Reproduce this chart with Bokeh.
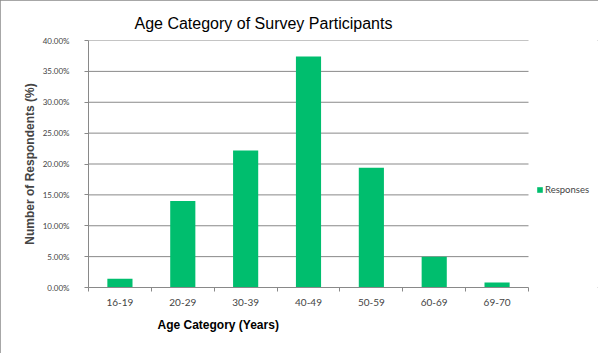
from bokeh.plotting import figure
from bokeh.models import (FixedTicker, NumeralTickFormatter, Legend, LegendItem,
                          ColumnDataSource, Range1d, InlineStyleSheet, Title)
from bokeh.embed import file_html
from bokeh.resources import INLINE

categories = ["16-19", "20-29", "30-39", "40-49", "50-59", "60-69", "69-70"]
responses = [0.014, 0.140, 0.222, 0.374, 0.194, 0.050, 0.008]
y_ticks = [0.0, 0.05, 0.10, 0.15, 0.20, 0.25, 0.30, 0.35, 0.40]

BAR = "#00BE6E"
GRID = "#898989"

n = len(categories)
xs = [i + 0.5 for i in range(n)]
src = ColumnDataSource(dict(x=xs, top=responses, cat=categories))
grid_src = ColumnDataSource(dict(y=y_ticks[1:], x0=[0] * (len(y_ticks) - 1), x1=[n] * (len(y_ticks) - 1)))

# frame spans the plot area plus the legend strip on the right (legend must not be clipped)
PLOT_W, LEGEND_W = 440, 70
p = figure(width=598, height=353, output_backend="svg", toolbar_location=None,
           x_range=Range1d(0, n * (PLOT_W + LEGEND_W) / PLOT_W), y_range=Range1d(0, 0.40),
           min_border_left=88, min_border_right=0, min_border_top=40, min_border_bottom=66)
p.stylesheets = [InlineStyleSheet(css=":host { outline: 1px solid #8a8a8a; outline-offset: -1px; }")]
p.outline_line_color = None
p.background_fill_color = "white"
p.border_fill_color = "white"

# gridlines limited to the category span
p.segment(x0="x0", x1="x1", y0="y", y1="y", source=grid_src, line_color=GRID, line_width=1)

r = p.vbar(x="x", top="top", width=0.4, source=src, color=BAR, line_color=None)

# title
p.title = Title(text="Age Category of Survey Participants", align="left", offset=46,
                text_font="Liberation Sans", text_font_size="16px", text_font_style="normal",
                text_color="black", standoff=18)

# y axis
p.yaxis.ticker = FixedTicker(ticks=y_ticks)
p.yaxis.formatter = NumeralTickFormatter(format="0.00%")
p.yaxis.axis_label = "Number of Respondents (%)"
p.yaxis.axis_label_text_font = "Liberation Sans"
p.yaxis.axis_label_text_font_style = "bold"
p.yaxis.axis_label_text_font_size = "12px"
p.yaxis.axis_label_standoff = 3
p.yaxis.major_label_text_font = "Lato"
p.yaxis.major_label_text_font_size = "8px"
p.yaxis.major_label_standoff = 15
p.yaxis.axis_line_color = GRID
p.yaxis.major_tick_line_color = GRID
p.yaxis.major_tick_out = 4
p.yaxis.major_tick_in = 0
p.yaxis.minor_tick_line_color = None

# x axis
p.xaxis.bounds = (0, n)
p.xaxis.ticker = FixedTicker(ticks=xs, minor_ticks=list(range(n + 1)))
p.xaxis.major_label_overrides = {x: c for x, c in zip(xs, categories)}
p.xaxis.major_tick_line_color = None
p.xaxis.minor_tick_line_color = GRID
p.xaxis.minor_tick_out = 4
p.xaxis.minor_tick_in = 0
p.xaxis.axis_line_color = GRID
p.xaxis.major_label_text_font = "Lato"
p.xaxis.major_label_text_font_size = "10px"
p.xaxis.major_label_standoff = 5

# x axis title, placed under the category span
p.add_layout(Title(text="Age Category (Years)", align="left", offset=69,
                   text_font="Liberation Sans", text_font_size="12px", text_font_style="bold",
                   text_color="black", standoff=15), "below")

p.xgrid.grid_line_color = None
p.ygrid.grid_line_color = None

legend = Legend(items=[LegendItem(label="Responses", renderers=[r])],
                location=(448, 92), orientation="vertical",
                label_text_font="Lato", label_text_font_size="9.5px",
                glyph_width=7, glyph_height=7, label_standoff=2, padding=0, margin=0,
                border_line_color=None, background_fill_alpha=0)
p.add_layout(legend)

open("out.html", "w").write(file_html(p, INLINE))
